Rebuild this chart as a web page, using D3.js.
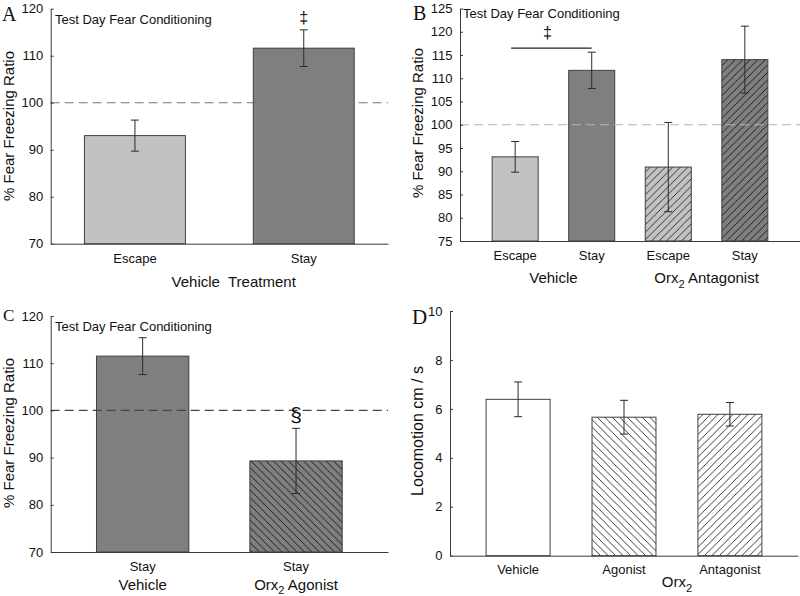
<!DOCTYPE html>
<html><head><meta charset="utf-8">
<script src="https://cdn.jsdelivr.net/npm/d3@7"></script>
<style>
body{margin:0;background:#fff}
svg{display:block}
text{font-family:"Liberation Sans",Arial,sans-serif;fill:#111}
</style>
</head><body>
<svg id="chart" width="800" height="596"></svg>
<script>
// ---------------- DATA ----------------
const titleText = "Test Day Fear Conditioning";

const catsA = ["Escape", "Stay"];
const valsA = [93.0, 111.6];
const semA  = [3.3, 3.9];
const ticksA = [70, 80, 90, 100, 110, 120];
const xTitleA = "Vehicle  Treatment";

const catsB = ["Escape", "Stay", "Escape", "Stay"];
const groupsB = ["Vehicle", "Orx|2| Antagonist"];
const valsB = [93.1, 111.7, 90.9, 114.0];
const semB  = [3.3, 3.9, 9.6, 7.2];
const ticksB = [75, 80, 85, 90, 95, 100, 105, 110, 115, 120, 125];

const catsC = ["Stay", "Stay"];
const groupsC = ["Vehicle", "Orx|2| Agonist"];
const valsC = [111.5, 89.3];
const semC  = [3.9, 6.9];
const ticksC = [70, 80, 90, 100, 110, 120];

const catsD = ["Vehicle", "Agonist", "Antagonist"];
const valsD = [6.39, 5.66, 5.78];
const semD  = [0.71, 0.69, 0.48];
const ticksD = [0, 2, 4, 6, 8, 10];
const xTitleD = "Orx|2|";

const yTitleFear = "% Fear Freezing Ratio";
const yTitleLoco = "Locomotion cm / s";
const refValue = 100;

// ---------------- SETUP ----------------
const svg = d3.select("#chart");
const defs = svg.append("defs");

function hatch(id, bg, dir, color) {
  const s = 7.5;
  const p = defs.append("pattern").attr("id", id)
    .attr("patternUnits", "userSpaceOnUse").attr("width", s).attr("height", s);
  p.append("rect").attr("width", s).attr("height", s).attr("fill", bg);
  const d = dir === "/"
    ? `M0,${s} L${s},0 M${-s/2},${s/2} L${s/2},${-s/2} M${s/2},${s*1.5} L${s*1.5},${s/2}`
    : `M0,0 L${s},${s} M${-s/2},${s/2} L${s/2},${s*1.5} M${s/2},${-s/2} L${s*1.5},${s/2}`;
  p.append("path").attr("d", d).attr("stroke", color).attr("stroke-width", 0.9).attr("fill", "none");
}
hatch("hLightFwd", "#c2c2c2", "/", "#222");
hatch("hDarkFwd", "#7f7f7f", "/", "#111");
hatch("hDarkBack", "#7f7f7f", "\\", "#111");
hatch("hWhiteBack", "#ffffff", "\\", "#222");
hatch("hWhiteFwd", "#ffffff", "/", "#222");

const AXIS_COLOR = "#3a3a3a";

function richText(sel, str, size) {
  const parts = str.split("|");
  parts.forEach((t, i) => {
    if (!t) return;
    const ts = sel.append("tspan").text(t);
    if (i % 2 === 1) {
      ts.attr("font-size", size * 0.74).attr("dy", size * 0.3);
    } else if (i > 0) {
      ts.attr("dy", -size * 0.3);
    }
  });
}

function refLine(g, cfg, y) {
  g.append("line")
    .attr("x1", cfg.xr[0]).attr("x2", cfg.xr[1])
    .attr("y1", y(refValue)).attr("y2", y(refValue))
    .attr("stroke", cfg.refColor).attr("stroke-width", 1.1)
    .attr("stroke-dasharray", "9,5");
}

function panel(cfg) {
  const g = svg.append("g");
  const n = cfg.vals.length;
  const x = d3.scaleBand().domain(d3.range(n)).range(cfg.xr)
    .paddingInner(cfg.pi).paddingOuter(cfg.po);
  const y = d3.scaleLinear().domain(cfg.yd).range(cfg.yr);
  const bw = x.bandwidth();

  if (cfg.refColor && !cfg.refOnTop) refLine(g, cfg, y);

  g.selectAll("rect.bar").data(cfg.vals).join("rect")
    .attr("class", "bar")
    .attr("x", (d, i) => x(i))
    .attr("y", d => y(d))
    .attr("width", bw)
    .attr("height", d => y(cfg.yd[0]) - y(d))
    .attr("fill", (d, i) => cfg.fills[i])
    .attr("stroke", "#404040").attr("stroke-width", 1);

  if (cfg.refColor && cfg.refOnTop) refLine(g, cfg, y);

  const eb = g.selectAll("g.err").data(cfg.vals).join("g").attr("class", "err")
    .attr("stroke", "#2a2a2a").attr("stroke-width", 1);
  eb.append("line")
    .attr("x1", (d, i) => x(i) + bw / 2).attr("x2", (d, i) => x(i) + bw / 2)
    .attr("y1", (d, i) => y(d + cfg.sem[i])).attr("y2", (d, i) => y(d - cfg.sem[i]));
  eb.append("line")
    .attr("x1", (d, i) => x(i) + bw / 2 - 4).attr("x2", (d, i) => x(i) + bw / 2 + 4)
    .attr("y1", (d, i) => y(d + cfg.sem[i])).attr("y2", (d, i) => y(d + cfg.sem[i]));
  eb.append("line")
    .attr("x1", (d, i) => x(i) + bw / 2 - 4).attr("x2", (d, i) => x(i) + bw / 2 + 4)
    .attr("y1", (d, i) => y(d - cfg.sem[i])).attr("y2", (d, i) => y(d - cfg.sem[i]));

  const ya = g.append("g").attr("transform", `translate(${cfg.xr[0]},0)`)
    .call(d3.axisLeft(y).tickValues(cfg.ticks).tickSize(-3).tickSizeOuter(0).tickPadding(7.5));
  ya.select(".domain").attr("stroke", AXIS_COLOR);
  ya.selectAll(".tick line").attr("stroke", AXIS_COLOR);
  ya.selectAll(".tick text").attr("font-size", 13).attr("font-family", '"Liberation Sans",Arial,sans-serif').attr("fill", "#111");

  const xa = g.append("g").attr("transform", `translate(0,${y(cfg.yd[0])})`)
    .call(d3.axisBottom(x).tickSize(0).tickPadding(cfg.xpad).tickFormat(i => cfg.cats[i]));
  xa.select(".domain").attr("stroke", AXIS_COLOR);
  xa.selectAll(".tick text").attr("font-size", 13).attr("font-family", '"Liberation Sans",Arial,sans-serif').attr("fill", "#111");

  return {g, x, y, bw};
}

function yTitle(str, px, py, size) {
  svg.append("text").attr("transform", `translate(${px},${py}) rotate(-90)`)
    .attr("text-anchor", "middle").attr("font-size", size).text(str);
}
function letter(str, px, py, size) {
  svg.append("text").attr("x", px).attr("y", py).attr("font-size", size)
    .style("font-family", '"Liberation Serif","Times New Roman",serif').text(str);
}
function title(px, py) {
  svg.append("text").attr("x", px).attr("y", py).attr("font-size", 13).text(titleText);
}

// ---------------- PANEL A ----------------
const A = panel({
  vals: valsA, sem: semA, cats: catsA, ticks: ticksA,
  xr: [50.7, 388], pi: 0.402, po: 0.2,
  yd: [70, 120], yr: [243.7, 8.7],
  fills: ["#c2c2c2", "#7f7f7f"], refColor: "#777", xpad: 9.8
});
title(55, 24);
letter("A", 2, 21, 20);
yTitle(yTitleFear, 14, 126, 15);
svg.append("text").attr("x", 233.7).attr("y", 287.3).attr("text-anchor", "middle")
  .attr("font-size", 15).style("white-space", "pre").attr("xml:space", "preserve").text(xTitleA);
svg.append("text").attr("x", A.x(1) + A.bw / 2).attr("y", A.y(valsA[1] + semA[1]) - 7)
  .attr("text-anchor", "middle").attr("font-size", 16).text("‡");

// ---------------- PANEL B ----------------
const B = panel({
  vals: valsB, sem: semB, cats: catsB, ticks: ticksB,
  xr: [460, 800], pi: 0.399, po: 0.42,
  yd: [75, 125], yr: [241, 8.5],
  fills: ["#c2c2c2", "#7f7f7f", "url(#hLightFwd)", "url(#hDarkFwd)"],
  refColor: "#b5b5b5", refOnTop: true, xpad: 9.8
});
title(463, 18);
letter("B", 413, 20, 20);
yTitle(yTitleFear, 423, 123, 15);
[[0, 1], [2, 3]].forEach((pair, k) => {
  const cx = (B.x(pair[0]) + B.x(pair[1]) + B.bw) / 2;
  const t = svg.append("text").attr("x", cx).attr("y", 283.3).attr("text-anchor", "middle").attr("font-size", 15);
  richText(t, groupsB[k], 15);
});
{
  const x1 = B.x(0) + B.bw / 2 - 4, x2 = B.x(1) + B.bw / 2;
  const by = B.y(116.5);
  svg.append("line").attr("x1", x1).attr("x2", x2).attr("y1", by).attr("y2", by)
    .attr("stroke", "#222").attr("stroke-width", 1.2);
  svg.append("text").attr("x", (x1 + x2) / 2 - 4).attr("y", by - 10)
    .attr("text-anchor", "middle").attr("font-size", 16).text("‡");
}

// ---------------- PANEL C ----------------
const C = panel({
  vals: valsC, sem: semC, cats: catsC, ticks: ticksC,
  xr: [50.7, 388], pi: 0.398, po: 0.2985,
  yd: [70, 120], yr: [552, 316],
  fills: ["#7f7f7f", "url(#hDarkBack)"], refColor: "#444", refOnTop: true, xpad: 9.5
});
title(55, 330.7);
letter("C", 3, 320.7, 17);
yTitle(yTitleFear, 14, 433, 15);
groupsC.forEach((lab, i) => {
  const t = svg.append("text").attr("x", C.x(i) + C.bw / 2).attr("y", 589.5)
    .attr("text-anchor", "middle").attr("font-size", 15);
  richText(t, lab, 15);
});
svg.append("text").attr("x", C.x(1) + C.bw / 2).attr("y", C.y(valsC[1] + semC[1]) - 6)
  .attr("text-anchor", "middle").attr("font-size", 21).text("§");

// ---------------- PANEL D ----------------
const D = panel({
  vals: valsD, sem: semD, cats: catsD, ticks: ticksD,
  xr: [450, 798], pi: 0.396, po: 0.341,
  yd: [0, 10], yr: [555.7, 311],
  fills: ["#ffffff", "url(#hWhiteBack)", "url(#hWhiteFwd)"], refColor: null, xpad: 9
});
letter("D", 412, 324, 21);
yTitle(yTitleLoco, 423, 431, 16);
{
  const cx = (D.x(1) + D.x(2) + D.bw) / 2;
  const t = svg.append("text").attr("x", cx).attr("y", 587).attr("text-anchor", "middle").attr("font-size", 15);
  richText(t, xTitleD, 15);
}
</script>
</body></html>
